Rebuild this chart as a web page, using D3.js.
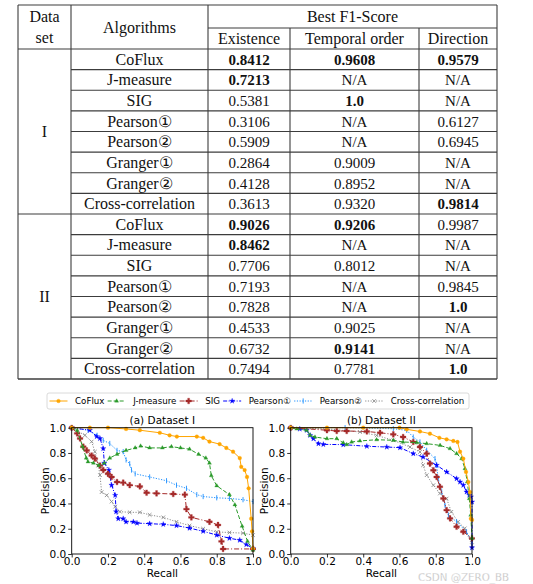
<!DOCTYPE html>
<html><head><meta charset="utf-8">
<script src="https://cdn.jsdelivr.net/npm/d3@7"></script>
<style>body{margin:0;background:#fff}svg{display:block}</style>
</head><body>
<svg id="c" width="533" height="584"></svg>
<script>
// ---------- Table data ----------
const datasets = ["I", "II"];
const algorithms = ["CoFlux","J-measure","SIG","Pearson①","Pearson②","Granger①","Granger②","Cross-correlation"];
const metrics = ["Existence","Temporal order","Direction"];
const existenceI = ["0.8412","0.7213","0.5381","0.3106","0.5909","0.2864","0.4128","0.3613"];
const temporalI  = ["0.9608","N/A","1.0","N/A","N/A","0.9009","0.8952","0.9320"];
const directionI = ["0.9579","N/A","N/A","0.6127","0.6945","N/A","N/A","0.9814"];
const existenceII = ["0.9026","0.8462","0.7706","0.7193","0.7828","0.4533","0.6732","0.7494"];
const temporalII  = ["0.9206","N/A","0.8012","N/A","N/A","0.9025","0.9141","0.7781"];
const directionII = ["0.9987","N/A","N/A","0.9845","1.0","N/A","N/A","1.0"];
// best values (dataset, row, metric column)
const bestCells = [[0,0,0],[0,0,1],[0,0,2],[0,1,0],[0,2,1],[0,7,2],
                   [1,0,0],[1,0,1],[1,1,0],[1,4,2],[1,6,1],[1,7,2]];

// ---------- PR curve data ----------
const seriesNames = ["CoFlux","J-measure","SIG","Pearson①","Pearson②","Cross-correlation"];
// Dataset I : [recall, precision]
const coFluxI = [[0,1],[0.1,1],[0.2,1],[0.3,0.99],[0.376,0.98],[0.486,0.96],[0.54,0.94],[0.58,0.93],[0.69,0.93],[0.725,0.92],[0.76,0.89],[0.816,0.87],[0.853,0.84],[0.89,0.81],[0.927,0.76],[0.935,0.69],[0.954,0.665],[0.967,0.61],[0.976,0.52],[0.99,0.28],[0.995,0.18],[1.0,0.045]];
const jMeasureI = [[0,1],[0.03,0.98],[0.06,0.85],[0.08,0.76],[0.09,0.73],[0.12,0.72],[0.15,0.70],[0.18,0.72],[0.21,0.76],[0.25,0.79],[0.30,0.82],[0.35,0.84],[0.38,0.855],[0.43,0.84],[0.5,0.84],[0.55,0.85],[0.6,0.84],[0.65,0.83],[0.7,0.79],[0.74,0.76],[0.76,0.72],[0.77,0.62],[0.8,0.54],[0.87,0.47],[0.9,0.39],[0.94,0.22],[0.97,0.1],[1.0,0.03]];
const sigI = [[0,1],[0.03,0.955],[0.046,0.915],[0.064,0.85],[0.083,0.82],[0.11,0.78],[0.128,0.755],[0.156,0.70],[0.174,0.665],[0.2,0.635],[0.22,0.61],[0.25,0.57],[0.284,0.565],[0.32,0.545],[0.376,0.535],[0.413,0.485],[0.468,0.48],[0.56,0.475],[0.624,0.47],[0.633,0.355],[0.66,0.29],[0.76,0.255],[0.807,0.23],[0.826,0.1],[0.835,0.04],[1.0,0.04]];
const pearson1I = [[0,1],[0.1,0.98],[0.138,0.93],[0.156,0.915],[0.174,0.835],[0.18,0.72],[0.205,0.665],[0.22,0.545],[0.24,0.465],[0.245,0.335],[0.257,0.28],[0.284,0.28],[0.3,0.255],[0.34,0.255],[0.36,0.245],[0.43,0.24],[0.505,0.235],[0.578,0.225],[0.65,0.205],[0.725,0.18],[0.8,0.15],[0.87,0.125],[0.927,0.11],[0.963,0.075],[1.0,0.045]];
const pearson2I = [[0,1],[0.09,0.98],[0.14,0.94],[0.174,0.9],[0.21,0.875],[0.25,0.82],[0.284,0.81],[0.3,0.745],[0.32,0.715],[0.33,0.665],[0.35,0.635],[0.43,0.61],[0.523,0.58],[0.578,0.545],[0.633,0.52],[0.69,0.47],[0.725,0.455],[0.8,0.445],[0.87,0.44],[0.945,0.43],[1.0,0.415]];
const crossI = [[0,1],[0.073,0.94],[0.11,0.89],[0.128,0.81],[0.147,0.70],[0.156,0.625],[0.165,0.49],[0.193,0.465],[0.22,0.415],[0.24,0.375],[0.266,0.335],[0.32,0.33],[0.376,0.33],[0.43,0.31],[0.505,0.29],[0.578,0.255],[0.65,0.225],[0.725,0.2],[0.8,0.175],[0.87,0.17],[0.945,0.165],[1.0,0.15]];
// Dataset II
const coFluxII = [[0,1],[0.2,1],[0.4,1],[0.6,1],[0.64,0.987],[0.713,0.97],[0.768,0.953],[0.82,0.92],[0.86,0.908],[0.897,0.895],[0.92,0.887],[0.934,0.81],[0.952,0.755],[0.967,0.65],[0.98,0.57],[0.989,0.49],[0.994,0.28],[1.0,0.27]];
const jMeasureII = [[0,1],[0.033,0.99],[0.088,0.98],[0.107,0.94],[0.134,0.926],[0.2,0.913],[0.254,0.913],[0.29,0.88],[0.309,0.866],[0.336,0.887],[0.382,0.895],[0.474,0.905],[0.566,0.9],[0.62,0.887],[0.695,0.882],[0.75,0.874],[0.824,0.86],[0.879,0.834],[0.915,0.795],[0.943,0.755],[0.961,0.676],[0.974,0.571],[0.985,0.439],[0.993,0.308],[1.0,0.124]];
const sigII = [[0,1],[0.2,0.98],[0.254,0.974],[0.309,0.974],[0.42,0.97],[0.493,0.96],[0.566,0.947],[0.62,0.926],[0.676,0.887],[0.713,0.847],[0.75,0.795],[0.768,0.716],[0.787,0.663],[0.805,0.61],[0.823,0.532],[0.842,0.44],[0.86,0.347],[0.879,0.282],[0.915,0.216],[0.952,0.176],[1.0,0.124]];
const pearson1II = [[0,1],[0.05,0.99],[0.088,0.98],[0.107,0.94],[0.125,0.913],[0.153,0.874],[0.18,0.868],[0.29,0.866],[0.42,0.853],[0.53,0.847],[0.603,0.842],[0.676,0.795],[0.73,0.768],[0.805,0.703],[0.86,0.65],[0.915,0.597],[0.934,0.571],[0.952,0.545],[0.97,0.492],[0.985,0.466],[0.994,0.453],[1.0,0.413],[1.0,0.05]];
const pearson2II = [[0,1],[0.3,1],[0.566,0.992],[0.64,0.979],[0.676,0.926],[0.713,0.887],[0.75,0.821],[0.796,0.755],[0.805,0.703],[0.814,0.597],[0.833,0.492],[0.851,0.387],[0.87,0.308],[0.915,0.255],[0.97,0.176],[1.0,0.097]];
const crossII = [[0,1],[0.2,0.99],[0.382,0.966],[0.474,0.939],[0.566,0.9],[0.658,0.847],[0.713,0.808],[0.73,0.703],[0.75,0.624],[0.787,0.545],[0.823,0.479],[0.86,0.439],[0.886,0.334],[0.923,0.255],[0.96,0.203],[1.0,0.07]];
const axisTicks = [0,0.2,0.4,0.6,0.8,1.0];
const chartTitles = ["(a) Dataset I","(b) Dataset II"];
const xLabel = "Recall", yLabel = "Precision";

const svg = d3.select("#c");

// ---------- Table ----------
const serif = "'Liberation Serif','Times New Roman',serif";
const colX = [18, 71, 208, 290, 419, 497];
const tTop = 5, midH = 28, headB = 49, rowH = 20.625;
const tbl = svg.append("g");
const rowY = d3.scaleLinear().domain([0,16]).range([headB, headB + 16*rowH]);
const ln = (x1,y1,x2,y2,w) => tbl.append("line").attr("x1",x1).attr("y1",y1).attr("x2",x2).attr("y2",y2)
   .attr("stroke","#3c3c3c").attr("stroke-width",w||1.1);
ln(colX[0], tTop, colX[5], tTop);
ln(colX[2], midH, colX[5], midH);
ln(colX[0], headB, colX[5], headB);
for (let i=1;i<16;i++){ if(i===8) ln(colX[0], rowY(i), colX[5], rowY(i)); else ln(colX[1], rowY(i), colX[5], rowY(i)); }
ln(colX[0], rowY(16), colX[5], rowY(16), 1.6);
ln(colX[0], tTop, colX[0], rowY(16)); ln(colX[5], tTop, colX[5], rowY(16));
ln(colX[1], tTop, colX[1], rowY(16)); ln(colX[2], tTop, colX[2], rowY(16));
ln(colX[3], midH, colX[3], rowY(16)); ln(colX[4], midH, colX[4], rowY(16));

const txt = (x,y,s,opt={}) => tbl.append("text").attr("x",x).attr("y",y).attr("text-anchor","middle")
  .attr("font-family",serif).attr("font-size",opt.size||16).attr("font-weight",opt.bold?"bold":"normal")
  .attr("fill","#111").text(s);
txt((colX[0]+colX[1])/2, 22, "Data");
txt((colX[0]+colX[1])/2, 43, "set");
txt((colX[1]+colX[2])/2, 33, "Algorithms");
txt((colX[2]+colX[5])/2, 22, "Best F1-Score");
metrics.forEach((m,i)=> txt((colX[2+i]+colX[3+i])/2, 43.5, m));
const tableCols = [[existenceI,temporalI,directionI],[existenceII,temporalII,directionII]];
datasets.forEach((ds,d)=>{
  txt((colX[0]+colX[1])/2, (rowY(d*8)+rowY(d*8+8))/2 + 5.5, ds);
  algorithms.forEach((a,r)=>{
    const yc = (rowY(d*8+r)+rowY(d*8+r+1))/2 + 5.5;
    txt((colX[1]+colX[2])/2, yc, a);
    tableCols[d].forEach((col,c)=>{
      const bold = bestCells.some(b=>b[0]===d&&b[1]===r&&b[2]===c);
      txt((colX[2+c]+colX[3+c])/2, yc, col[r], {bold, size:15});
    });
  });
});

// ---------- Charts ----------
const sans = "'DejaVu Sans',sans-serif";
const styles = [
  {color:"#ffa500", dash:null, marker:"circle"},
  {color:"#2a9a2a", dash:"4,2", marker:"triangle"},
  {color:"#a52a2a", dash:"5,2,1,2", marker:"plus"},
  {color:"#0000ff", dash:"4,1.5,1,1.5", marker:"star"},
  {color:"#1e90ff", dash:"1.2,1.5", marker:"vline"},
  {color:"#8c8c8c", dash:"1.2,1.5", marker:"x"}
];
function markerPath(type){
  switch(type){
    case "circle": return d3.symbol(d3.symbolCircle, 11)();
    case "triangle": return d3.symbol(d3.symbolTriangle, 7)();
    case "plus": return d3.symbol(d3.symbolCross, 18)();
    case "star": return d3.symbol(d3.symbolStar, 9)();
    case "vline": return "M0,-2.6V2.6";
    case "x": return "M-1.8,-1.8L1.8,1.8M-1.8,1.8L1.8,-1.8";
  }
}
function drawMarker(g, type, color, x, y){
  const p = g.append("path").attr("d", markerPath(type)).attr("transform",`translate(${x},${y})`);
  if (type==="vline"||type==="x") p.attr("fill","none").attr("stroke",color).attr("stroke-width",0.9);
  else p.attr("fill",color).attr("stroke",color).attr("stroke-width",0.3);
}
const chartSeries = [[coFluxI,jMeasureI,sigI,pearson1I,pearson2I,crossI],[coFluxII,jMeasureII,sigII,pearson1II,pearson2II,crossII]];
const chartX = [[71.7,253],[290.7,472]];
const plotTop = 427.7, plotBot = 554;
chartSeries.forEach((series,ci)=>{
  const x = d3.scaleLinear().domain([0,1]).range(chartX[ci]);
  const y = d3.scaleLinear().domain([0,1]).range([plotBot, plotTop]);
  const g = svg.append("g");
  const clipId = "clip"+ci;
  g.append("clipPath").attr("id",clipId).append("rect")
    .attr("x",chartX[ci][0]-3).attr("y",plotTop-3).attr("width",chartX[ci][1]-chartX[ci][0]+6).attr("height",plotBot-plotTop+6);
  const pg = g.append("g").attr("clip-path",`url(#${clipId})`);
  const line = d3.line().x(d=>x(d[0])).y(d=>y(d[1]));
  series.map((s,i)=>i).reverse().forEach(i=>{
    const st = styles[i];
    pg.append("path").datum(series[i]).attr("d",line).attr("fill","none")
      .attr("stroke",st.color).attr("stroke-width",1).attr("stroke-dasharray",st.dash);
    const mg = pg.append("g");
    series[i].forEach(d=>drawMarker(mg, st.marker, st.color, x(d[0]), y(d[1])));
  });
  g.append("rect").attr("x",chartX[ci][0]).attr("y",plotTop).attr("width",chartX[ci][1]-chartX[ci][0]).attr("height",plotBot-plotTop)
    .attr("fill","none").attr("stroke","#000").attr("stroke-width",0.9);
  const ax = g.append("g").attr("transform",`translate(0,${plotBot})`)
    .call(d3.axisBottom(x).tickValues(axisTicks).tickFormat(d3.format(".1f")).tickSize(3.5).tickPadding(0));
  const ay = g.append("g").attr("transform",`translate(${chartX[ci][0]},0)`)
    .call(d3.axisLeft(y).tickValues(axisTicks).tickFormat(d3.format(".1f")).tickSize(3.5).tickPadding(2));
  [ax,ay].forEach(a=>{
    a.select(".domain").remove();
    a.selectAll("text").attr("font-family",sans).attr("font-size",10.5).attr("fill","#000");
    a.selectAll("line").attr("stroke","#000").attr("stroke-width",0.8);
  });
  g.append("text").attr("x",(chartX[ci][0]+chartX[ci][1])/2).attr("y",424).attr("text-anchor","middle")
    .attr("font-family",sans).attr("font-size",10.5).text(chartTitles[ci]);
  g.append("text").attr("x",(chartX[ci][0]+chartX[ci][1])/2).attr("y",577).attr("text-anchor","middle")
    .attr("font-family",sans).attr("font-size",10.5).text(xLabel);
  g.append("text").attr("transform",`translate(${chartX[ci][0]-23},${(plotTop+plotBot)/2}) rotate(-90)`).attr("text-anchor","middle")
    .attr("font-family",sans).attr("font-size",10.5).text(yLabel);
});

// ---------- Legend ----------
const lg = svg.append("g");
lg.append("rect").attr("x",47).attr("y",393).attr("width",422).attr("height",16).attr("rx",2)
  .attr("fill","#fff").attr("stroke","#d0d0d0").attr("stroke-width",0.8);
let lx = 49.5;
seriesNames.forEach((n,i)=>{
  const st = styles[i];
  lg.append("line").attr("x1",lx).attr("x2",lx+18).attr("y1",401).attr("y2",401)
    .attr("stroke",st.color).attr("stroke-width",1).attr("stroke-dasharray",st.dash);
  drawMarker(lg, st.marker, st.color, lx+9, 401);
  const t = lg.append("text").attr("x",lx+25.5).attr("y",404.3).attr("font-family",sans).attr("font-size",8.7).attr("fill","#000").text(n);
  lx = lx + 25.5 + t.node().getComputedTextLength() + 3.2;
});

// watermark
svg.append("text").attr("x",418).attr("y",580.5).attr("font-family",sans).attr("font-size",10.3)
  .attr("fill","#b4b4b4").attr("stroke","#fff").attr("stroke-width",0.3).text("CSDN @ZERO_BB");
</script>
</body></html>
